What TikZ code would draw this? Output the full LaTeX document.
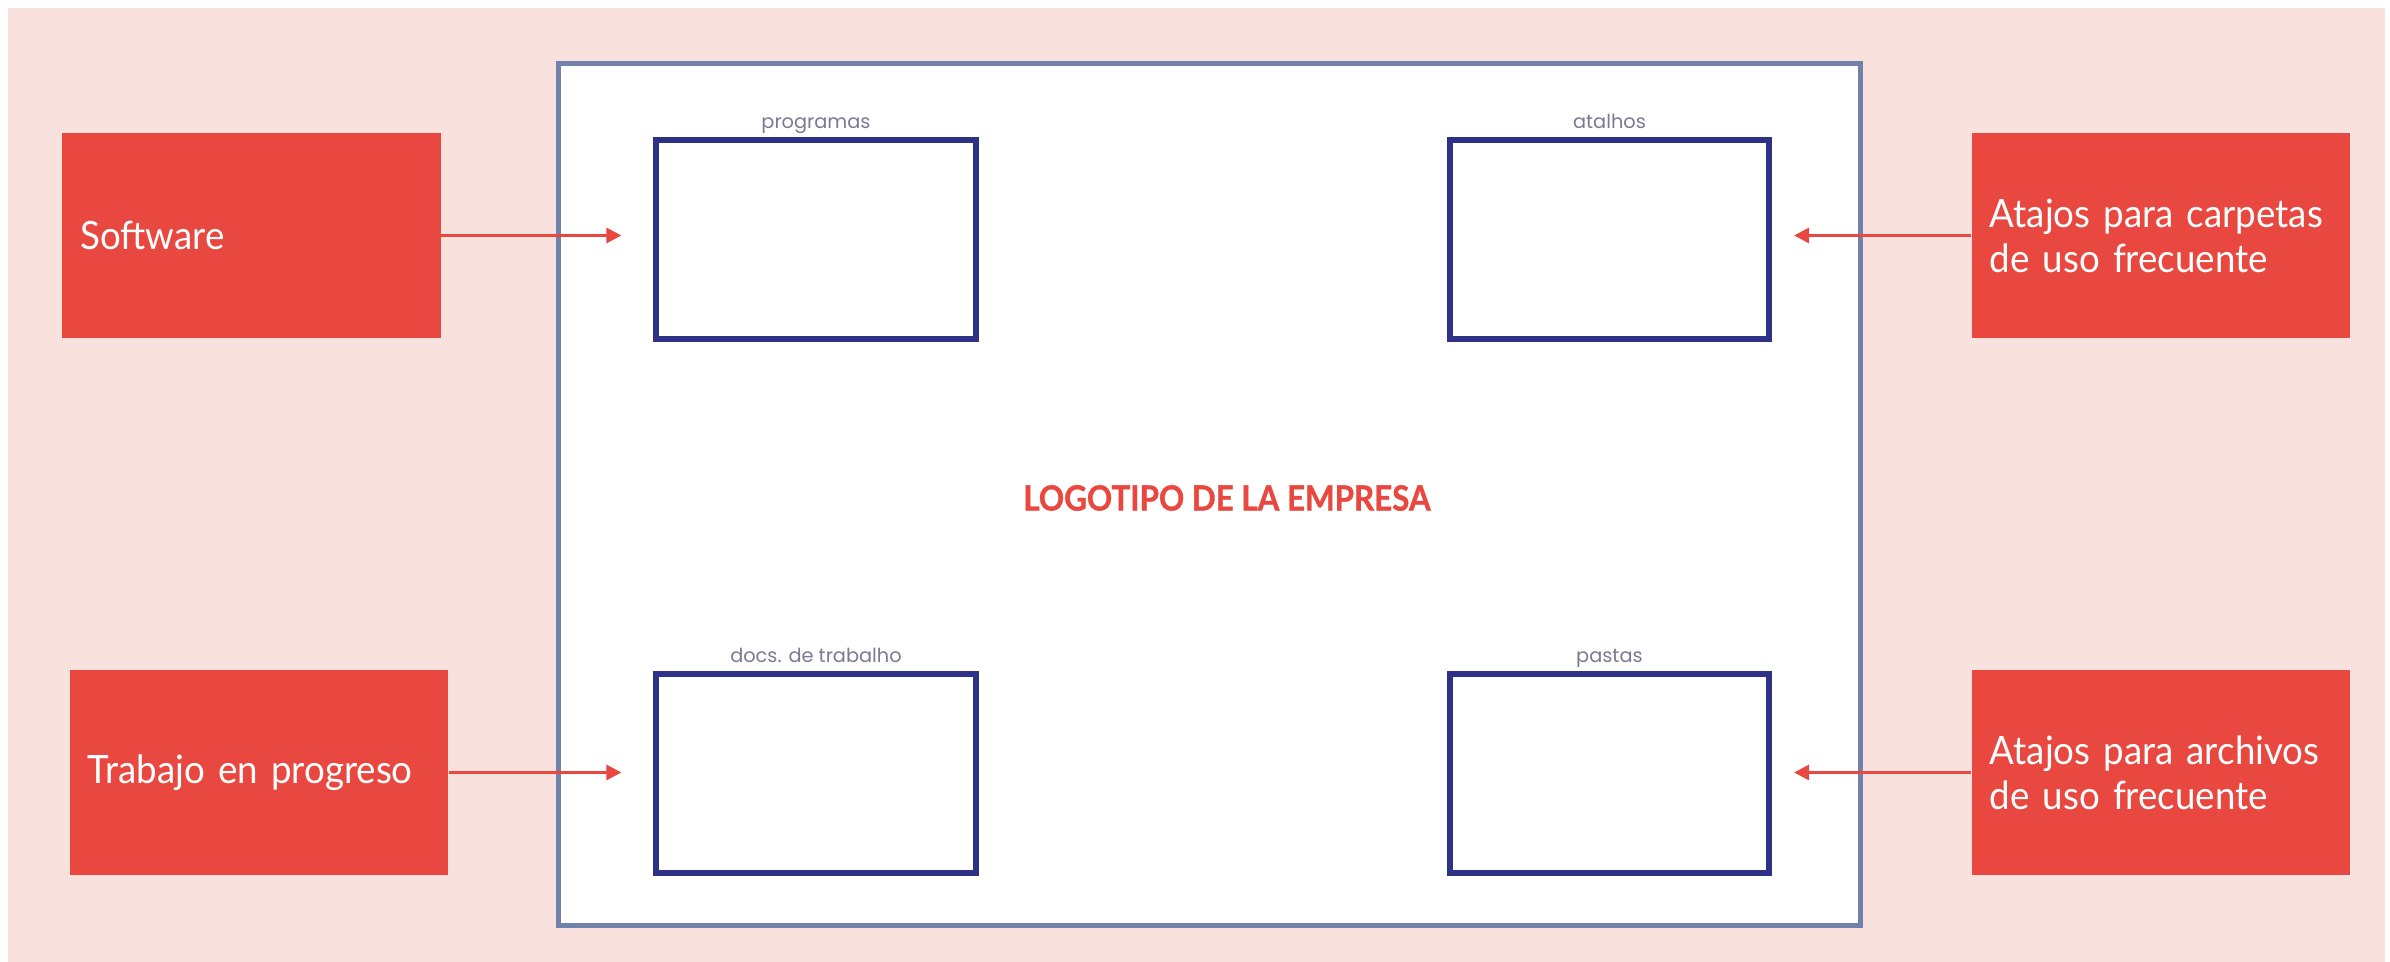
\documentclass[tikz,border=0pt]{standalone}
\usepackage{fontspec}
\setmainfont[FakeStretch=0.94]{Lato}
\newfontfamily\logofont[FakeStretch=0.9, FakeBold=1]{Lato}
\newfontfamily\etiqfont{Poppins}
\usetikzlibrary{arrows.meta, positioning}

\definecolor{fondo}{HTML}{F9E2DD}
\definecolor{rojo}{HTML}{E8483F}
\definecolor{marco}{HTML}{7082AB}
\definecolor{azul}{HTML}{2E3287}
\definecolor{gris}{HTML}{7A7A94}

\tikzset{
	nota/.style={fill=rojo, text=white, font=\fontsize{11.1}{12.8}\selectfont, minimum height=2.05cm, text width=3.42cm, inner xsep=0.18cm, inner ysep=0pt, align=left},
	etiqueta/.style={text=gris, font=\etiqfont\fontsize{5.5}{6}\selectfont, inner sep=0pt, text depth=0.05cm, label distance=0.03cm},
	carpeta/.style={draw=azul, fill=white, line width=0.06cm, minimum width=3.19cm, minimum height=1.99cm, label={[etiqueta]above:#1}},
	flecha/.style={rojo, line width=0.85pt, -{Triangle[length=0.15cm, width=0.15cm]}}
}

\begin{document}
\begin{tikzpicture}[x=0.01cm, y=-0.01cm, on grid]
		\useasboundingbox (0,0) rectangle (2390,962);
		\fill[fondo] (8,8) rectangle (2385,962);
		\node[draw=marco, fill=white, line width=0.05cm, minimum width=13.02cm, minimum height=8.62cm] (pantalla) at (1209.5,494.5) {};
		\node[text=rojo, font=\logofont\bfseries\fontsize{9.9}{11}\selectfont] (logo) at (1227,498) {LOGOTIPO DE LA EMPRESA};
		\node[carpeta=programas] (prog) at (816,239.5) {};
		\node[carpeta=atalhos] (atal) [right=7.93cm of prog] {};
		\node[carpeta={docs. de trabalho}] (docs) [below=5.34cm of prog] {};
		\node[carpeta=pastas] (past) [below=5.34cm of atal] {};
		\node[nota] (software) at (251.5,235.5) {\mbox{Software}};
		\node[nota] (trabajo) at (259,772.5) {\mbox{Trabajo en progreso}};
		\node[nota] (carpetas) at (2161,235.5) {\mbox{Atajos para carpetas}\\\mbox{de uso frecuente}};
		\node[nota] (archivos) at (2161,772.5) {\mbox{Atajos para archivos}\\\mbox{de uso frecuente}};
		\draw[flecha, shorten >=0.32cm] (software) -- (software -| prog.west);
		\draw[flecha, shorten >=0.32cm] (trabajo) -- (trabajo -| docs.west);
		\draw[flecha, shorten >=0.22cm] (carpetas) -- (carpetas -| atal.east);
		\draw[flecha, shorten >=0.22cm] (archivos) -- (archivos -| past.east);
	\end{tikzpicture}
\end{document}
